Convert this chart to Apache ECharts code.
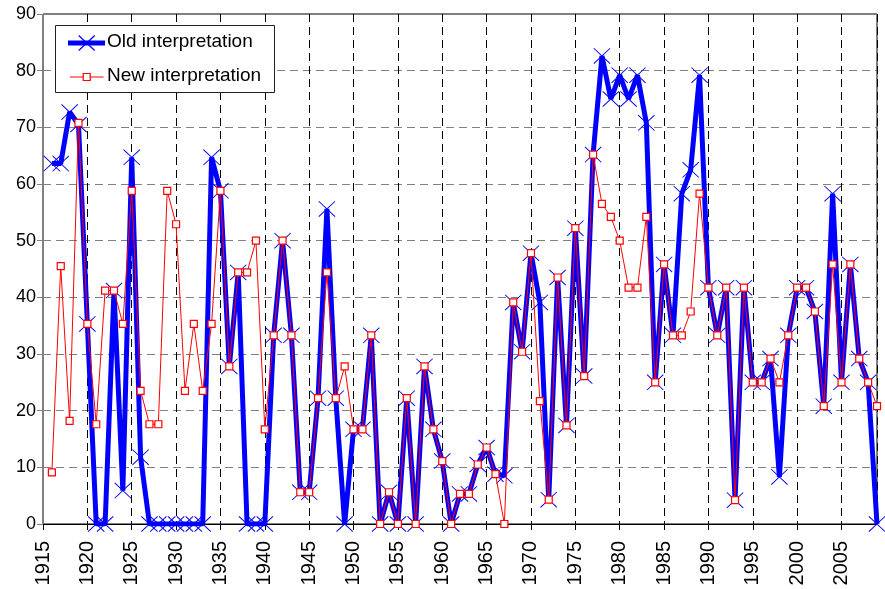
<!DOCTYPE html>
<html>
<head>
<meta charset="utf-8">
<script src="https://cdn.jsdelivr.net/npm/echarts@6/dist/echarts.min.js"></script>
<style>
html,body{margin:0;padding:0;background:#fff;}
#chart{width:885px;height:589px;}
</style>
</head>
<body>
<div id="chart"></div>
<script>
var years = [];
for (var y = 1916; y <= 2009; y++) years.push(y);

var oldValues = [
  63.6, 63.6, 72.7, 70.5, 35.3, 0, 0, 41.2, 5.9, 64.7,
  11.8, 0, 0, 0, 0, 0, 0, 0, 64.7, 58.8,
  27.8, 44.4, 0, 0, 0, 33.3, 50, 33.3, 5.6, 5.6,
  22.2, 55.6, 22.2, 0, 16.7, 16.7, 33.3, 0, 5.6, 0,
  22.2, 0, 27.8, 16.7, 11.1, 0, 5.3, 5.3, 10.5, 13.5,
  8.8, 8.5, 39.1, 30.4, 47.8, 39.1, 4.3, 43.5, 17.4, 52.2,
  26.1, 65.2, 82.6, 75.0, 79.2, 75.0, 79.2, 70.8, 25.0, 45.8,
  33.3, 58.3, 62.5, 79.2, 41.7, 33.3, 41.7, 4.2, 41.7, 25.0,
  25.0, 29.2, 8.3, 33.3, 41.7, 41.7, 37.5, 20.8, 58.3, 25.0,
  45.8, 29.2, 25.0, 0
];

var newValues = [
  9.1, 45.5, 18.2, 70.8, 35.3, 17.6, 41.2, 41.2, 35.3, 58.8,
  23.5, 17.6, 17.6, 58.8, 52.9, 23.5, 35.3, 23.5, 35.3, 58.8,
  27.8, 44.4, 44.4, 50, 16.7, 33.3, 50, 33.3, 5.6, 5.6,
  22.2, 44.4, 22.2, 27.8, 16.7, 16.7, 33.3, 0, 5.6, 0,
  22.2, 0, 27.8, 16.7, 11.1, 0, 5.3, 5.3, 10.5, 13.5,
  8.8, 0, 39.1, 30.4, 47.8, 21.7, 4.3, 43.5, 17.4, 52.2,
  26.1, 65.2, 56.5, 54.2, 50, 41.7, 41.7, 54.2, 25, 45.8,
  33.3, 33.3, 37.5, 58.3, 41.7, 33.3, 41.7, 4.2, 41.7, 25,
  25, 29.2, 25, 33.3, 41.7, 41.7, 37.5, 20.8, 45.8, 25,
  45.8, 29.2, 25, 20.8
];

var seriesNames = ['Old interpretation', 'New interpretation'];
var xMin = 1915, xMax = 2009, xStep = 5;
var yMin = 0, yMax = 90, yStep = 10;

function pairs(vals) {
  return years.map(function (yr, i) { return [yr, vals[i]]; });
}

var FONT = "'Liberation Sans', Arial, sans-serif";
var crossPath = 'path://M0,4 L4,0 L100,96 L96,100 Z M96,0 L100,4 L4,100 L0,96 Z';
var BLUE = '#0000FF', RED = '#FF0000';

// legend drawn as graphics
var lx = 86.7, ly1 = 43, ly2 = 77;
var legendGraphics = [
  {type: 'rect', shape: {x: 55.5, y: 25.5, width: 219, height: 67}, style: {fill: '#fff', stroke: '#222', lineWidth: 1}, z: 100},
  {type: 'line', shape: {x1: 68, y1: ly1, x2: 105, y2: ly1}, style: {stroke: BLUE, lineWidth: 5}, z: 101},
  {type: 'line', shape: {x1: lx - 8, y1: ly1 - 7.5, x2: lx + 8, y2: ly1 + 7.5}, style: {stroke: BLUE, lineWidth: 1.2}, z: 102},
  {type: 'line', shape: {x1: lx + 8, y1: ly1 - 7.5, x2: lx - 8, y2: ly1 + 7.5}, style: {stroke: BLUE, lineWidth: 1.2}, z: 102},
  {type: 'text', left: 107, top: ly1 - 11, style: {text: seriesNames[0], font: '19px ' + FONT, fill: '#000'}, z: 101},
  {type: 'line', shape: {x1: 70, y1: ly2, x2: 103.5, y2: ly2}, style: {stroke: RED, lineWidth: 1}, z: 101},
  {type: 'rect', shape: {x: lx - 3.5, y: ly2 - 3.5, width: 7, height: 7}, style: {fill: '#fff', stroke: RED, lineWidth: 1.2}, z: 102},
  {type: 'text', left: 107, top: ly2 - 11, style: {text: seriesNames[1], font: '19px ' + FONT, fill: '#000'}, z: 101}
];

var chart = echarts.init(document.getElementById('chart'), null, {renderer: 'canvas'});
chart.setOption({
  animation: false,
  backgroundColor: '#fff',
  textStyle: {fontFamily: FONT},
  grid: {left: 43, right: 8, top: 14, bottom: 65, show: true, borderColor: '#000', borderWidth: 1},
  xAxis: {
    type: 'value', min: xMin, max: xMax, interval: xStep,
    axisLine: {show: true, lineStyle: {color: '#000', width: 1}},
    axisTick: {show: true, inside: false, length: 6, lineStyle: {color: '#000'}},
    axisLabel: {
      rotate: 90, margin: 17, fontSize: 20, color: '#000', fontFamily: FONT,
      showMaxLabel: false,
      formatter: function (v) { return (v % 5 === 0) ? String(v) : ''; }
    },
    splitLine: {show: true, lineStyle: {color: '#000', type: [8, 5], width: 1}}
  },
  yAxis: {
    type: 'value', min: yMin, max: yMax, interval: yStep,
    axisLine: {show: true, lineStyle: {color: '#808080', width: 1}},
    axisTick: {show: true, inside: false, length: 6, lineStyle: {color: '#808080'}},
    axisLabel: {margin: 7, fontSize: 18, color: '#000', fontFamily: FONT},
    splitLine: {show: true, lineStyle: {color: '#808080', type: [8, 5], width: 1}}
  },
  graphic: legendGraphics,
  series: [
    {
      name: seriesNames[0], type: 'line',
      data: pairs(oldValues),
      symbol: crossPath, symbolSize: [17, 16],
      showAllSymbol: true,
      lineStyle: {color: BLUE, width: 5},
      itemStyle: {color: BLUE},
      z: 2
    },
    {
      name: seriesNames[1], type: 'line',
      data: pairs(newValues),
      symbol: 'rect', symbolSize: 7,
      showAllSymbol: true,
      lineStyle: {color: RED, width: 1},
      itemStyle: {color: '#fff', borderColor: RED, borderWidth: 1.2},
      z: 3
    }
  ]
});
</script>
</body>
</html>
